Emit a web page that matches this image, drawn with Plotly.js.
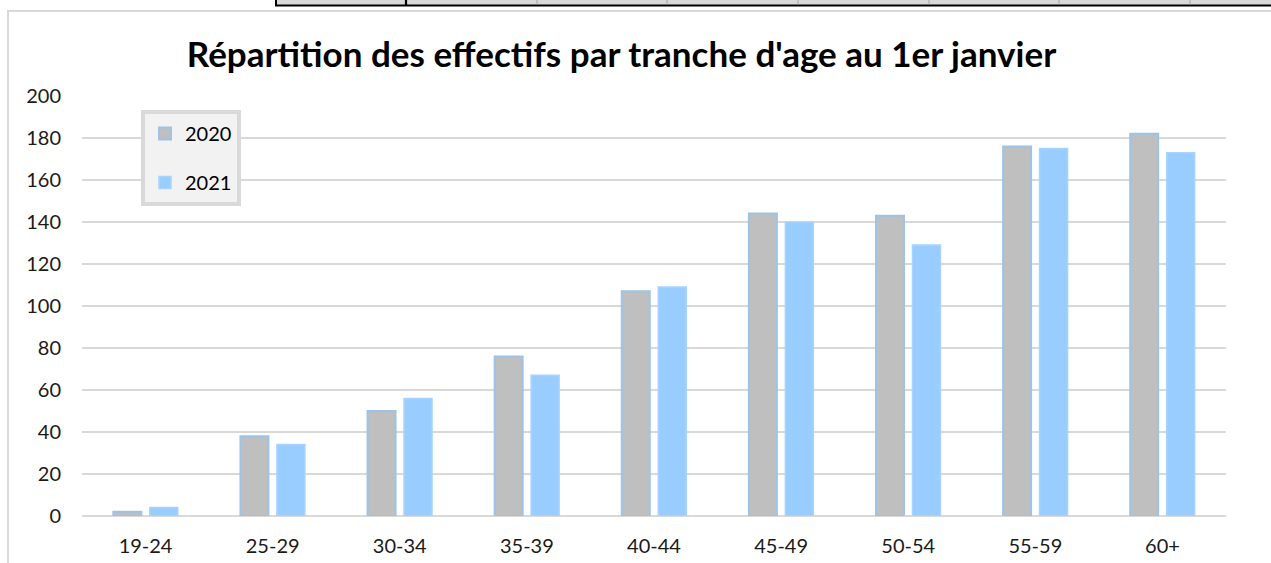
<!DOCTYPE html>
<html>
<head>
<meta charset="utf-8">
<script src="https://cdn.plot.ly/plotly-3.0.1.min.js"></script>
<style>
html,body{margin:0;padding:0;background:#fff;}
#chart{width:1271px;height:563px;}
</style>
</head>
<body>
<div id="chart"></div>
<script>
// Data
const categories = ["19-24","25-29","30-34","35-39","40-44","45-49","50-54","55-59","60+"];
const values2020 = [2, 38, 50, 76, 107, 144, 143, 176, 182];
const values2021 = [4, 34, 56, 67, 109, 140, 129, 175, 173];
const seriesNames = ["2020","2021"];
const yTicks = [0,20,40,60,80,100,120,140,160,180,200];
const titleText = "Répartition des effectifs par tranche d'age au 1er janvier";

// Layout geometry
const W = 1271, H = 563;
const M = {l: 82, r: 45, t: 96, b: 47};
const pw = W - M.l - M.r, ph = H - M.t - M.b;
const px = x => (x - M.l) / pw;
const py = y => (H - M.b - y) / ph;
const FONT = "Lato, 'Open Sans', sans-serif";

const traces = [
  {
    type: "bar", name: seriesNames[0], x: categories, y: values2020,
    legendgroup: "a",
    marker: {color: "#bfbfbf", line: {color: "#9dc3e6", width: 2}},
    hoverinfo: "x+y"
  },
  {
    type: "bar", name: seriesNames[1], x: categories, y: values2021,
    legendgroup: "b",
    marker: {color: "#99ccff", line: {color: "#a9d3ff", width: 1.5}},
    hoverinfo: "x+y"
  }
];

// decorative spreadsheet strip and chart frame
const shapes = [];
function rect(x0,y0,x1,y1,fill,line,lw){
  shapes.push({type:"rect", xref:"paper", yref:"paper", x0:px(x0), x1:px(x1), y0:py(y1), y1:py(y0),
    fillcolor: fill, line:{color: line || "rgba(0,0,0,0)", width: lw || 0}, layer:"above"});
}
function line(x0,y0,x1,y1,color,w){
  shapes.push({type:"line", xref:"paper", yref:"paper", x0:px(x0), x1:px(x1), y0:py(y0), y1:py(y1),
    line:{color:color, width:w}, layer:"above"});
}
rect(275, -2, 1275, 5, "#d9d9d9");
line(275, 5.5, 1275, 5.5, "#000000", 2.2);
line(276, -2, 276, 6, "#000000", 2);
line(406, -2, 406, 6, "#000000", 2.2);
[537, 667, 798, 929, 1059, 1190].forEach(x => line(x, -2, x, 4.5, "#a6a6a6", 1));
line(7, 11, 1275, 11, "#d9d9d9", 2);
line(8, 11, 8, 570, "#d9d9d9", 2);

const layout = {
  width: W, height: H,
  margin: M,
  paper_bgcolor: "rgba(0,0,0,0)",
  plot_bgcolor: "rgba(0,0,0,0)",
  font: {family: FONT, size: 20, color: "#1a1a1a"},
  title: {
    text: "<b>" + titleText + "</b>",
    font: {family: FONT, size: 35, color: "#000000"},
    x: 0.489, xref: "container", xanchor: "center",
    y: 1 - 55/563, yref: "container", yanchor: "middle"
  },
  barmode: "group",
  bargap: 0.426,
  bargroupgap: 0.233,
  xaxis: {
    type: "category",
    showgrid: false, zeroline: false, showline: false,
    ticks: "", ticklabelstandoff: 16,
    tickfont: {family: FONT, size: 20, color: "#1a1a1a"},
    fixedrange: true
  },
  yaxis: {
    range: [0, 200],
    tickvals: yTicks,
    ticktext: yTicks.map(String),
    showgrid: true, gridcolor: "#d9d9d9", gridwidth: 2,
    zeroline: true, zerolinecolor: "#d9d9d9", zerolinewidth: 2.5,
    showline: false, ticks: "", ticklabelstandoff: 20,
    tickfont: {family: FONT, size: 20, color: "#1a1a1a"},
    fixedrange: true
  },
  legend: {
    x: px(141), y: py(110), xanchor: "left", yanchor: "top",
    xref: "paper", yref: "paper",
    bgcolor: "#f2f2f2", bordercolor: "#d9d9d9", borderwidth: 4,
    font: {family: FONT, size: 20, color: "#000000"},
    traceorder: "grouped", tracegroupgap: 20,
    itemwidth: 30,
    entrywidth: 100, entrywidthmode: "pixels"
  },
  shapes: shapes,
  showlegend: true
};

Plotly.newPlot("chart", traces, layout, {displayModeBar: false, staticPlot: true});
</script>
</body>
</html>
